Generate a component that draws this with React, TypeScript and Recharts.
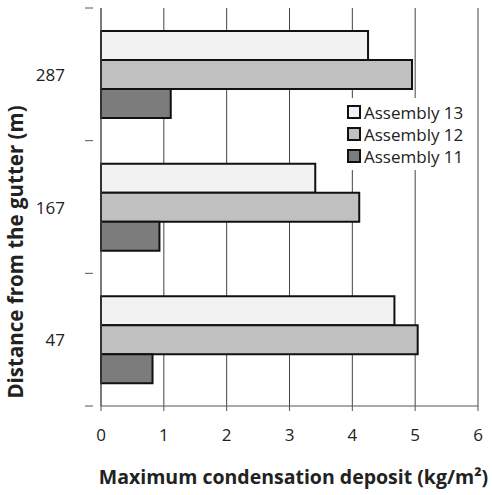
import { BarChart, Bar, XAxis, YAxis, CartesianGrid, Legend } from 'recharts';

const distances = ['287', '167', '47'];
const assembly13 = [4.25, 3.41, 4.67];
const assembly12 = [4.95, 4.11, 5.04];
const assembly11 = [1.11, 0.93, 0.82];
const xTicks = [0, 1, 2, 3, 4, 5, 6];

const SERIES = [
    { key: 'a13', name: 'Assembly 13', color: '#f2f2f2' },
    { key: 'a12', name: 'Assembly 12', color: '#c0c0c0' },
    { key: 'a11', name: 'Assembly 11', color: '#7c7c7c' },
];

const data = distances.map((d, i) => ({
    distance: d,
    a13: assembly13[i],
    a12: assembly12[i],
    a11: assembly11[i],
}));

const FONT = '"Open Sans", sans-serif';

const LegendBox = () => (
    <div style={{ background: '#fff', padding: '3px 4px', fontFamily: FONT, fontSize: 17, color: '#222' }}>
        {SERIES.map((s) => (
            <div key={s.key} style={{ display: 'flex', alignItems: 'center', height: 22 }}>
                <span
                    style={{
                        width: 10,
                        height: 10,
                        border: '2px solid #111',
                        background: s.color,
                        marginRight: 3,
                        display: 'inline-block',
                    }}
                />
                <span>{s.name}</span>
            </div>
        ))}
    </div>
);

// category tick: label at band centre, small tick marks on band edges
const DistanceTick = ({ x, y, payload, index, visibleTicksCount }: any) => {
    const half = payload.offset || 0;
    return (
        <g>
            <line x1={x - 8} x2={x} y1={y - half} y2={y - half} stroke="#555" />
            {index === visibleTicksCount - 1 && (
                <line x1={x - 8} x2={x} y1={y + half} y2={y + half} stroke="#555" />
            )}
            <text x={x - 28} y={y} textAnchor="end" dominantBaseline="central" fontFamily={FONT} fontSize={17} fill="#222">
                {payload.value}
            </text>
        </g>
    );
};

const YTitle = ({ viewBox }: any) => {
    const cx = 15;
    const cy = viewBox.y + viewBox.height / 2 + 45;
    return (
        <text
            x={cx}
            y={cy}
            transform={`rotate(-90, ${cx}, ${cy})`}
            textAnchor="middle"
            dominantBaseline="central"
            fontFamily={FONT}
            fontWeight="bold"
            fontSize={20.5}
            fill="#222"
        >
            Distance from the gutter (m)
        </text>
    );
};

export default function App() {
    return (
        <div style={{ position: 'absolute', left: 0, top: 0, width: 492, height: 495, background: '#fff' }}>
            <BarChart
                width={492}
                height={495}
                data={data}
                layout="vertical"
                margin={{ top: 8, right: 14, left: 0, bottom: 0 }}
                barGap={0}
                barSize={29}
            >
                <CartesianGrid horizontal={false} stroke="#444" strokeWidth={1} />
                <XAxis
                    type="number"
                    domain={[0, 6]}
                    ticks={xTicks}
                    interval={0}
                    height={89}
                    stroke="#555"
                    tickSize={5}
                    tick={{ fill: '#222', fontSize: 17, fontFamily: FONT, dy: 16 }}
                    label={{
                        value: 'Maximum condensation deposit (kg/m²)',
                        position: 'insideBottom',
                        offset: 11,
                        fill: '#222',
                        fontSize: 19.5,
                        fontWeight: 'bold',
                        fontFamily: FONT,
                        dx: 4,
                    }}
                />
                <YAxis
                    type="category"
                    dataKey="distance"
                    width={101}
                    stroke="#555"
                    tickLine={false}
                    tick={<DistanceTick />}
                    label={<YTitle />}
                />
                <Legend
                    layout="horizontal"
                    verticalAlign="middle"
                    align="center"
                    content={<LegendBox />}
                    wrapperStyle={{ left: 343, top: 98, width: 'auto' }}
                />
                {SERIES.map((s) => (
                    <Bar
                        key={s.key}
                        dataKey={s.key}
                        name={s.name}
                        fill={s.color}
                        stroke="#111"
                        strokeWidth={2}
                        isAnimationActive={false}
                    />
                ))}
            </BarChart>
        </div>
    );
}
